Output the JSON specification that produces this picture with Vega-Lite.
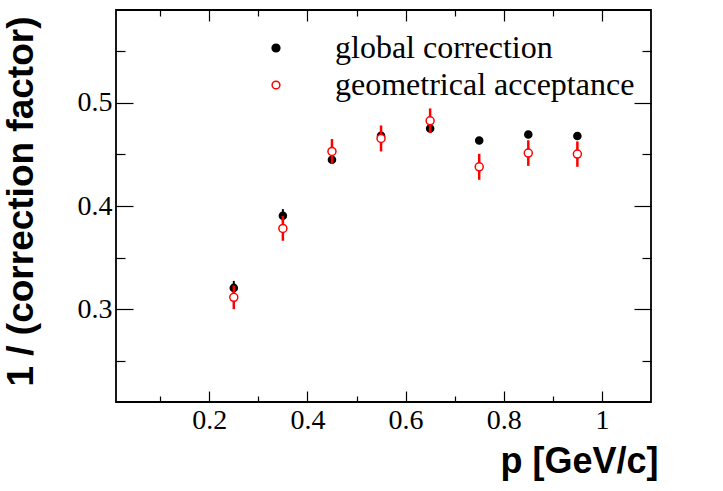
{
  "$schema": "https://vega.github.io/schema/vega-lite/v6.json",
  "width": 535,
  "height": 392,
  "autosize": {"type": "none"},
  "padding": {"left": 116, "top": 10, "right": 72, "bottom": 89},
  "background": "white",
  "config": {
    "view": {"stroke": "black", "strokeWidth": 1.8},
    "axis": {
      "domain": false,
      "grid": false,
      "tickColor": "black",
      "tickWidth": 1.2,
      "labelFont": "Liberation Serif",
      "labelFontSize": 28,
      "labelColor": "black",
      "titleFont": "Liberation Sans",
      "titleFontWeight": "bold",
      "titleFontSize": 36,
      "titleColor": "black"
    },
    "legend": {
      "orient": "none",
      "legendX": 144,
      "legendY": 22,
      "padding": 0,
      "title": null,
      "labelFont": "Liberation Serif",
      "labelFontSize": 32,
      "labelColor": "black",
      "labelLimit": 0,
      "labelOffset": 43,
      "rowPadding": 5,
      "symbolType": "circle",
      "symbolSize": 60,
      "symbolStrokeWidth": 1.5
    }
  },
  "data": {
    "values": [
      {"series": "global correction", "p": 0.25, "v": 0.3206, "lo": 0.3146, "hi": 0.3274},
      {"series": "global correction", "p": 0.35, "v": 0.3906, "lo": 0.385, "hi": 0.397},
      {"series": "global correction", "p": 0.45, "v": 0.4448, "lo": 0.441, "hi": 0.449},
      {"series": "global correction", "p": 0.55, "v": 0.468, "lo": 0.4635, "hi": 0.4725},
      {"series": "global correction", "p": 0.65, "v": 0.4751, "lo": 0.471, "hi": 0.479},
      {"series": "global correction", "p": 0.75, "v": 0.4635, "lo": 0.4605, "hi": 0.4665},
      {"series": "global correction", "p": 0.85, "v": 0.4693, "lo": 0.466, "hi": 0.472},
      {"series": "global correction", "p": 0.95, "v": 0.4678, "lo": 0.4648, "hi": 0.4708},
      {"series": "geometrical acceptance", "p": 0.25, "v": 0.3115, "lo": 0.3, "hi": 0.323},
      {"series": "geometrical acceptance", "p": 0.35, "v": 0.3783, "lo": 0.3663, "hi": 0.3903},
      {"series": "geometrical acceptance", "p": 0.45, "v": 0.4529, "lo": 0.4409, "hi": 0.4649},
      {"series": "geometrical acceptance", "p": 0.55, "v": 0.4655, "lo": 0.4529, "hi": 0.4781},
      {"series": "geometrical acceptance", "p": 0.65, "v": 0.4826, "lo": 0.4706, "hi": 0.4946},
      {"series": "geometrical acceptance", "p": 0.75, "v": 0.438, "lo": 0.4254, "hi": 0.4506},
      {"series": "geometrical acceptance", "p": 0.85, "v": 0.4513, "lo": 0.4389, "hi": 0.4637},
      {"series": "geometrical acceptance", "p": 0.95, "v": 0.4503, "lo": 0.438, "hi": 0.4626}
    ]
  },
  "resolve": {"axis": {"x": "independent", "y": "independent"}},
  "layer": [
    {
      "transform": [{"filter": "datum.series == 'global correction'"}],
      "mark": {"type": "rule", "color": "black", "strokeWidth": 2},
      "encoding": {
        "x": {
          "field": "p",
          "type": "quantitative",
          "scale": {"domain": [0.01, 1.1], "nice": false, "zero": false},
          "axis": {
            "orient": "bottom",
            "values": [0.2, 0.4, 0.6, 0.8, 1],
            "format": "~g",
            "tickSize": -11,
            "labelPadding": 15,
            "title": "p [GeV/c]",
            "titleAnchor": "end",
            "titleAlign": "right",
            "titleBaseline": "alphabetic",
            "titleX": 542,
            "titleY": 70
          }
        },
        "y": {
          "field": "lo",
          "type": "quantitative",
          "scale": {"domain": [0.21, 0.59], "nice": false, "zero": false},
          "axis": {
            "orient": "left",
            "values": [0.3, 0.4, 0.5],
            "format": ".1f",
            "tickSize": -17,
            "labelPadding": 21,
            "title": "1 / (correction factor)",
            "titleFontSize": 37,
            "titleAngle": 270,
            "titleAnchor": "end",
            "titleAlign": "right",
            "titleBaseline": "alphabetic",
            "titleX": -84,
            "titleY": 6
          }
        },
        "y2": {"field": "hi"}
      }
    },
    {
      "transform": [{"filter": "datum.series == 'global correction'"}],
      "mark": {"type": "point", "shape": "circle", "filled": true, "size": 50, "strokeWidth": 1.5, "opacity": 1},
      "encoding": {
        "x": {
          "field": "p",
          "type": "quantitative",
          "scale": {"domain": [0.01, 1.1], "nice": false, "zero": false},
          "axis": {"orient": "top", "values": [0.2, 0.4, 0.6, 0.8, 1], "labels": false, "tickSize": -11, "title": null}
        },
        "y": {
          "field": "v",
          "type": "quantitative",
          "scale": {"domain": [0.21, 0.59], "nice": false, "zero": false},
          "axis": {"orient": "right", "values": [0.3, 0.4, 0.5], "labels": false, "tickSize": -17, "title": null}
        },
        "fill": {
          "field": "series",
          "type": "nominal",
          "scale": {"domain": ["global correction", "geometrical acceptance"], "range": ["black", "white"]},
          "legend": {"title": null}
        },
        "stroke": {
          "field": "series",
          "type": "nominal",
          "scale": {"domain": ["global correction", "geometrical acceptance"], "range": ["black", "#ff0000"]},
          "legend": {"title": null}
        }
      }
    },
    {
      "transform": [{"filter": "datum.series == 'geometrical acceptance'"}],
      "mark": {"type": "rule", "color": "#ff0000", "strokeWidth": 2.5},
      "encoding": {
        "x": {
          "field": "p",
          "type": "quantitative",
          "scale": {"domain": [0.01, 1.1], "nice": false, "zero": false},
          "axis": {"orient": "bottom", "values": [0.1, 0.3, 0.5, 0.7, 0.9], "labels": false, "tickSize": -6, "title": null}
        },
        "y": {
          "field": "lo",
          "type": "quantitative",
          "scale": {"domain": [0.21, 0.59], "nice": false, "zero": false},
          "axis": {"orient": "left", "values": [0.25, 0.35, 0.45, 0.55], "labels": false, "tickSize": -9, "title": null}
        },
        "y2": {"field": "hi"}
      }
    },
    {
      "transform": [{"filter": "datum.series == 'geometrical acceptance'"}],
      "mark": {"type": "point", "shape": "circle", "filled": true, "size": 64, "strokeWidth": 1.5, "opacity": 1},
      "encoding": {
        "x": {
          "field": "p",
          "type": "quantitative",
          "scale": {"domain": [0.01, 1.1], "nice": false, "zero": false},
          "axis": {"orient": "top", "values": [0.1, 0.3, 0.5, 0.7, 0.9], "labels": false, "tickSize": -6, "title": null}
        },
        "y": {
          "field": "v",
          "type": "quantitative",
          "scale": {"domain": [0.21, 0.59], "nice": false, "zero": false},
          "axis": {"orient": "right", "values": [0.25, 0.35, 0.45, 0.55], "labels": false, "tickSize": -9, "title": null}
        },
        "fill": {
          "field": "series",
          "type": "nominal",
          "scale": {"domain": ["global correction", "geometrical acceptance"], "range": ["black", "white"]},
          "legend": {"title": null}
        },
        "stroke": {
          "field": "series",
          "type": "nominal",
          "scale": {"domain": ["global correction", "geometrical acceptance"], "range": ["black", "#ff0000"]},
          "legend": {"title": null}
        }
      }
    }
  ]
}
